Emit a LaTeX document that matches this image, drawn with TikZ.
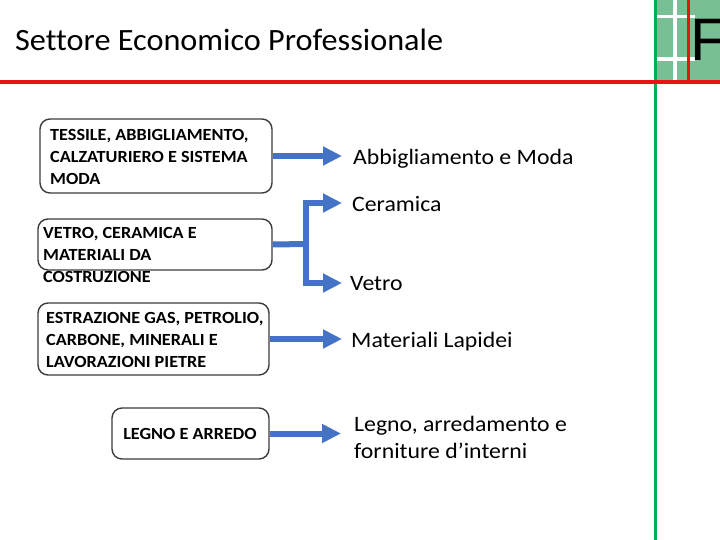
\documentclass[tikz,border=0pt]{standalone}
\usepackage{fontspec}
\setmainfont{Carlito}
\newfontfamily\logofont{Liberation Sans}
\newfontfamily\titlefont{Carlito}[FakeStretch=1.04, Ligatures=NoCommon]
\newfontfamily\boxfont{Carlito}[FakeStretch=1.07]
\newfontfamily\outfont{Carlito}[FakeStretch=1.08, Ligatures=NoCommon]
\usetikzlibrary{arrows.meta}
\definecolor{arrblue}{RGB}{68,114,196}
\definecolor{logogreen}{RGB}{122,190,150}
\definecolor{linegreen}{RGB}{0,176,80}
\definecolor{linered}{RGB}{230,20,20}
\definecolor{boxgray}{RGB}{60,60,60}
\tikzset{
  boxnode/.style={draw=boxgray, line width=1.4pt, rounded corners=10pt, inner sep=0pt},
  boxtext/.style={font=\boxfont\bfseries\fontsize{17}{22}\selectfont, align=left, inner sep=0pt, anchor=west},
  outtext/.style={font=\outfont\fontsize{22}{27}\selectfont, align=left, inner sep=0pt, anchor=west},
  arrline/.style={draw=arrblue, line width=6pt},
  arr/.style={arrline, -{Triangle[length=19pt,width=18pt]}},
}
\begin{document}
\begin{tikzpicture}[x=1pt,y=-1pt]
\useasboundingbox (0,0) rectangle (720,540);
% logo
\fill[logogreen] (657,0) rectangle (720,81);
\fill[white] (673,0) rectangle (677,81);
\fill[white] (657,15) rectangle (695,18.5);
\fill[white] (657,57) rectangle (695,61);
\node[font=\logofont\fontsize{60}{60}\selectfont, anchor=base west, inner sep=0pt] (logoF) at (690,61) {F};
\fill[linered] (687,0) rectangle (690,82);
\fill[linegreen] (654,0) rectangle (657,540);
\fill[linered] (0,80) rectangle (720,84);
% title
\node[font=\titlefont\fontsize{31}{36}\selectfont, anchor=base west, inner sep=0pt] (title) at (15,50.5) {Settore Economico Professionale};
% boxes
\node[boxnode, minimum width=232pt, minimum height=74pt] (b1) at (156,156) {};
\node[boxnode, minimum width=234pt, minimum height=51pt] (b2) at (155,244.5) {};
\node[boxnode, minimum width=231pt, minimum height=72pt] (b3) at (153.5,339) {};
\node[boxnode, minimum width=157pt, minimum height=51pt] (b4) at (190.5,433.5) {};
\node[boxtext] (t1) at (50,157) {TESSILE, ABBIGLIAMENTO,\\CALZATURIERO E SISTEMA\\MODA};
\node[boxtext] (t2) at (43,255) {VETRO, CERAMICA E\\MATERIALI DA\\COSTRUZIONE};
\node[boxtext] (t3) at (46,339.5) {ESTRAZIONE GAS, PETROLIO,\\CARBONE, MINERALI E\\LAVORAZIONI PIETRE};
\node[boxtext, anchor=center] (t4) at (190,434) {LEGNO E ARREDO};
% outputs
\node[outtext] (o1) at (353,158.5) {Abbigliamento e Moda};
\node[outtext] (o2) at (352,204.5) {Ceramica};
\node[outtext] (o3) at (350,283.5) {Vetro};
\node[outtext] (o4) at (351,341.5) {Materiali Lapidei};
\node[outtext] (o5) at (354,437) {Legno, arredamento e\\forniture d’interni};
% arrows
\coordinate (j) at (306,244);
\coordinate (e1) at (342,156);
\coordinate (e2) at (342,203);
\coordinate (e3) at (342,283);
\coordinate (e4) at (342,339);
\coordinate (e5) at (341,433.5);
\draw[arr] (b1.east) -- (e1);
\draw[arrline] (b2.east) -- (j);
\draw[arr] (j) |- (e2);
\draw[arr] (j) |- (e3);
\draw[arr] (b3.east) -- (e4);
\draw[arr] (b4.east) -- (e5);
\end{tikzpicture}
\end{document}
